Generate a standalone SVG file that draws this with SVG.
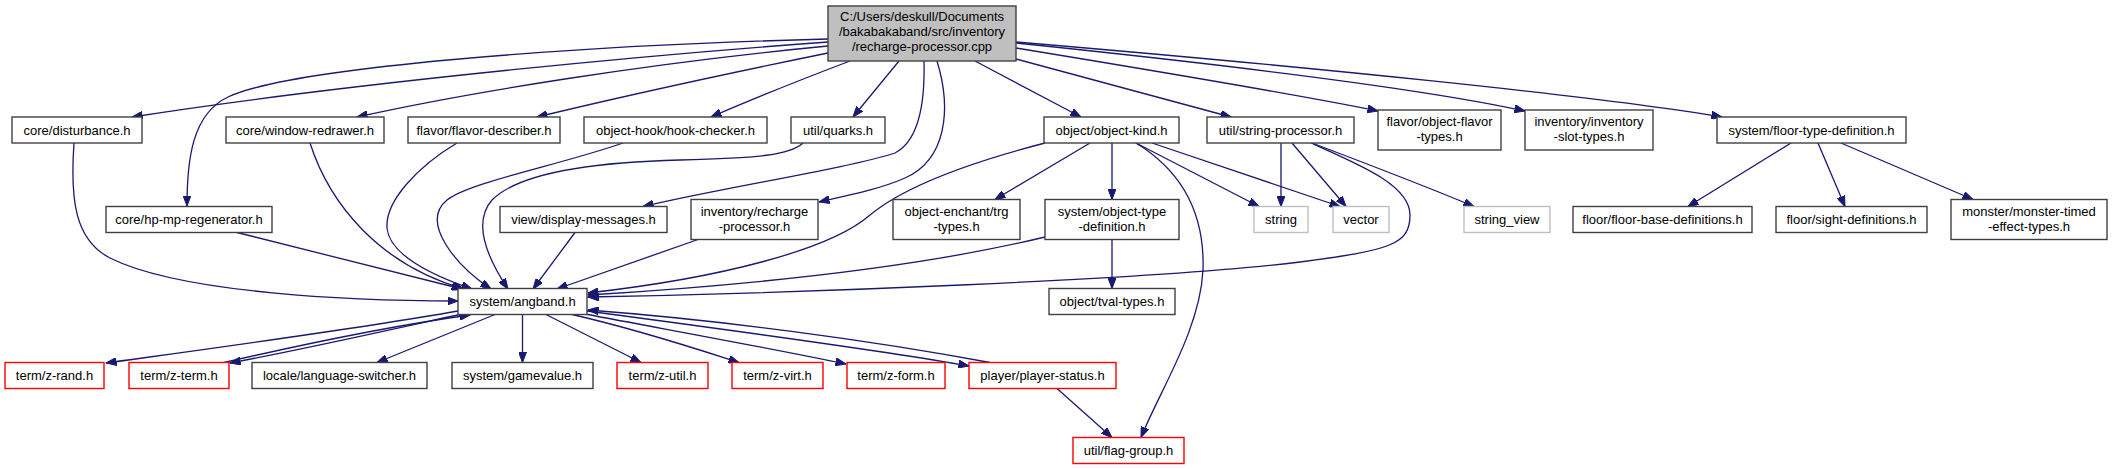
<svg xmlns="http://www.w3.org/2000/svg" width="2113" height="469" viewBox="0 0 2113 469">
<style>
.n{fill:#ffffff;stroke:#404040;stroke-width:1.4}
.r{fill:#ffffff;stroke:#ff0000;stroke-width:1.4}
.g{fill:#ffffff;stroke:#bfbfbf;stroke-width:1.4}
.m{fill:#bfbfbf;stroke:#404040;stroke-width:1.4}
text{font-family:"Liberation Sans",Arial,sans-serif;font-size:13px;fill:#000;text-anchor:middle}
.e path{fill:none;stroke:#191970;stroke-width:1.3;marker-end:url(#a)}
</style>
<defs>
<marker id="a" markerWidth="11" markerHeight="8" refX="10.5" refY="4" orient="auto" markerUnits="userSpaceOnUse"><path d="M0,0L10.5,4L0,8z" fill="#191970" stroke="#191970" stroke-width="1"/></marker>
</defs>
<rect width="2113" height="469" fill="#ffffff"/>
<g class="e" id="edges">
<path d="M828,42 C620,57 330,86 132,117"/>
<path d="M828,39 C560,46 290,68 228,97 C192,114 187,160 187,206"/>
<path d="M828,46 C650,63 470,92 357,117"/>
<path d="M828,53 C730,73 620,97 537,117"/>
<path d="M850,61 C800,80 750,100 711,117"/>
<path d="M899,61 L853,117"/>
<path d="M924,61 C925,100 920,140 895,153 C850,168 720,188 643,206.5"/>
<path d="M937,61 C952,110 946,160 905,178 C880,189 850,195 819,202"/>
<path d="M975,61 L1081,117"/>
<path d="M1016,59 L1231,117"/>
<path d="M1016,48 C1150,70 1300,95 1378,111"/>
<path d="M1016,43 C1200,62 1420,88 1525,111"/>
<path d="M1016,42 C1300,66 1600,96 1722,117"/>
<path d="M74,143 C70,200 75,240 110,258 C180,293 350,301 458,301"/>
<path d="M237,232.5 L462,289"/>
<path d="M310,143 C330,205 380,265 464,289"/>
<path d="M457,143 C420,165 385,200 387,228 C390,258 440,278 472,289"/>
<path d="M623,143 C560,165 470,182 447,200 C420,222 455,265 491,289"/>
<path d="M803,143 C790,155 760,158 680,160 C600,162 520,172 492,200 C470,225 492,265 508,289"/>
<path d="M575,232.5 L533,289"/>
<path d="M698,239.5 L557,289"/>
<path d="M1045,143 C960,165 900,190 870,215 C830,250 720,278 588,293"/>
<path d="M1045,237 C950,260 800,282 588,295"/>
<path d="M1311,143 C1360,165 1410,185 1410,215 C1410,245 1390,250 1300,262 C1150,280 800,293 588,297"/>
<path d="M458,311 C350,330 200,350 106,363"/>
<path d="M462,314 C380,332 300,350 230,363"/>
<path d="M222,363 C300,345 390,326 470,315"/>
<path d="M495,314.5 L377,362.5"/>
<path d="M522.5,314.5 L522.5,362.5"/>
<path d="M546,314.5 L641,362.5"/>
<path d="M572,314.5 C640,330 700,350 739,362.5"/>
<path d="M585,314 C680,332 780,350 846,364"/>
<path d="M587,311 C730,330 880,350 969,366"/>
<path d="M990,362.5 C870,340 720,320 588,310"/>
<path d="M1057,388.5 L1112,437.5"/>
<path d="M1136,143 C1180,170 1205,210 1203,270 C1200,330 1160,390 1141,437.5"/>
<path d="M1090,143 L995,199.5"/>
<path d="M1112,143 L1112,199.5"/>
<path d="M1136,143 L1259,206.5"/>
<path d="M1152,143 L1340,206.5"/>
<path d="M1281,143 L1281,206.5"/>
<path d="M1292,143 L1346,206.5"/>
<path d="M1312,143 C1370,165 1430,188 1474,206.5"/>
<path d="M1112,239.5 L1112,288.5"/>
<path d="M1791,143 L1688,206.5"/>
<path d="M1818,143 L1845,206.5"/>
<path d="M1841,143 L1973,199.5"/>
</g>
<g id="n_main"><rect class="m" x="828" y="6" width="188" height="55"/><text x="922" y="21">C:/Users/deskull/Documents</text><text x="922" y="36">/bakabakaband/src/inventory</text><text x="922" y="51">/recharge-processor.cpp</text></g>
<g id="n_disturbance"><rect class="n" x="12" y="117" width="130" height="26"/><text x="77" y="134.5">core/disturbance.h</text></g>
<g id="n_window_redrawer"><rect class="n" x="226" y="117" width="158" height="26"/><text x="305" y="134.5">core/window-redrawer.h</text></g>
<g id="n_flavor_describer"><rect class="n" x="408" y="117" width="152" height="26"/><text x="484" y="134.5">flavor/flavor-describer.h</text></g>
<g id="n_hook_checker"><rect class="n" x="584" y="117" width="183" height="26"/><text x="675.5" y="134.5">object-hook/hook-checker.h</text></g>
<g id="n_quarks"><rect class="n" x="791" y="117" width="94" height="26"/><text x="838" y="134.5">util/quarks.h</text></g>
<g id="n_object_kind"><rect class="n" x="1044" y="117" width="135" height="26"/><text x="1111.5" y="134.5">object/object-kind.h</text></g>
<g id="n_string_processor"><rect class="n" x="1207" y="117" width="147" height="26"/><text x="1280.5" y="134.5">util/string-processor.h</text></g>
<g id="n_object_flavor_types"><rect class="n" x="1378" y="110" width="123" height="40"/><text x="1439.5" y="126">flavor/object-flavor</text><text x="1439.5" y="141">-types.h</text></g>
<g id="n_inventory_slot_types"><rect class="n" x="1525" y="110" width="128" height="40"/><text x="1589" y="126">inventory/inventory</text><text x="1589" y="141">-slot-types.h</text></g>
<g id="n_floor_type_definition"><rect class="n" x="1717" y="117" width="189" height="26"/><text x="1811.5" y="134.5">system/floor-type-definition.h</text></g>
<g id="n_hp_mp_regenerator"><rect class="n" x="106" y="206.5" width="166" height="26"/><text x="189" y="224">core/hp-mp-regenerator.h</text></g>
<g id="n_display_messages"><rect class="n" x="500" y="206.5" width="167" height="26"/><text x="583.5" y="224">view/display-messages.h</text></g>
<g id="n_recharge_processor_h"><rect class="n" x="691" y="199.5" width="127" height="40"/><text x="754.5" y="215.5">inventory/recharge</text><text x="754.5" y="230.5">-processor.h</text></g>
<g id="n_trg_types"><rect class="n" x="893" y="199.5" width="127" height="40"/><text x="956.5" y="215.5">object-enchant/trg</text><text x="956.5" y="230.5">-types.h</text></g>
<g id="n_object_type_definition"><rect class="n" x="1045" y="199.5" width="134" height="40"/><text x="1112" y="215.5">system/object-type</text><text x="1112" y="230.5">-definition.h</text></g>
<g id="n_string"><rect class="g" x="1254" y="206.5" width="54" height="26"/><text x="1281" y="224">string</text></g>
<g id="n_vector"><rect class="g" x="1333" y="206.5" width="56" height="26"/><text x="1361" y="224">vector</text></g>
<g id="n_string_view"><rect class="g" x="1464" y="206.5" width="86" height="26"/><text x="1507" y="224">string_view</text></g>
<g id="n_floor_base_definitions"><rect class="n" x="1573" y="206.5" width="179" height="26"/><text x="1662.5" y="224">floor/floor-base-definitions.h</text></g>
<g id="n_sight_definitions"><rect class="n" x="1776" y="206.5" width="151" height="26"/><text x="1851.5" y="224">floor/sight-definitions.h</text></g>
<g id="n_monster_timed_effect_types"><rect class="n" x="1951" y="199.5" width="156" height="40"/><text x="2029" y="215.5">monster/monster-timed</text><text x="2029" y="230.5">-effect-types.h</text></g>
<g id="n_angband"><rect class="n" x="458" y="288.5" width="129" height="26"/><text x="522.5" y="306">system/angband.h</text></g>
<g id="n_tval_types"><rect class="n" x="1049" y="288.5" width="126" height="26"/><text x="1112" y="306">object/tval-types.h</text></g>
<g id="n_z_rand"><rect class="r" x="5" y="362.5" width="99" height="26"/><text x="54.5" y="380">term/z-rand.h</text></g>
<g id="n_z_term"><rect class="r" x="129" y="362.5" width="100" height="26"/><text x="179" y="380">term/z-term.h</text></g>
<g id="n_language_switcher"><rect class="n" x="252" y="362.5" width="175" height="26"/><text x="339.5" y="380">locale/language-switcher.h</text></g>
<g id="n_gamevalue"><rect class="n" x="452" y="362.5" width="141" height="26"/><text x="522.5" y="380">system/gamevalue.h</text></g>
<g id="n_z_util"><rect class="r" x="617" y="362.5" width="91" height="26"/><text x="662.5" y="380">term/z-util.h</text></g>
<g id="n_z_virt"><rect class="r" x="732" y="362.5" width="91" height="26"/><text x="777.5" y="380">term/z-virt.h</text></g>
<g id="n_z_form"><rect class="r" x="847" y="362.5" width="98" height="26"/><text x="896" y="380">term/z-form.h</text></g>
<g id="n_player_status"><rect class="r" x="969" y="362.5" width="147" height="26"/><text x="1042.5" y="380">player/player-status.h</text></g>
<g id="n_flag_group"><rect class="r" x="1073" y="437.5" width="111" height="26"/><text x="1128.5" y="455">util/flag-group.h</text></g>
</svg>
